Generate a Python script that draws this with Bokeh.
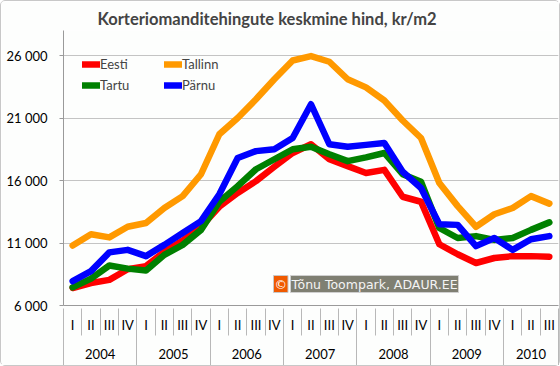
from bokeh.plotting import figure
from bokeh.models import Range1d, FixedTicker, Legend, LegendItem, Label, LinearAxis
from bokeh.embed import file_html
from bokeh.resources import INLINE

years = ["2004", "2005", "2006", "2007", "2008", "2009", "2010"]
quarter_names = ["I", "II", "III", "IV"]
quarters_per_year = [4, 4, 4, 4, 4, 4, 3]

eesti = [7400, 7800, 8050, 8900, 9150, 10300, 11200, 12300, 13900, 15000, 15950, 17100, 18200, 18900,
         17700, 17150, 16600, 16850, 14700, 14300, 10900, 10100, 9400, 9800, 9950, 9950, 9900]
tallinn = [10800, 11700, 11450, 12300, 12600, 13800, 14750, 16500, 19700, 21000, 22500, 24100, 25600, 25950,
           25500, 24100, 23450, 22400, 20800, 19400, 15800, 13950, 12300, 13300, 13800, 14750, 14150]
tartu = [7450, 8150, 9200, 8950, 8800, 10050, 10850, 12050, 14300, 15550, 16900, 17700, 18500, 18700,
         18100, 17550, 17850, 18200, 16500, 15900, 12200, 11400, 11550, 11250, 11400, 12050, 12650]
parnu = [7950, 8750, 10250, 10450, 9950, 10850, 11800, 12750, 14900, 17800, 18350, 18500, 19400, 22100,
         18900, 18700, 18850, 19000, 16700, 15400, 12500, 12450, 10750, 11400, 10450, 11300, 11550]

series_names = ["Eesti", "Tallinn", "Tartu", "Pärnu"]
series_colors = ["#FF0000", "#FF9900", "#008000", "#0000FF"]

title_text = "Korteriomanditehingute keskmine hind, kr/m2"
watermark_text = "Tõnu Toompark, ADAUR.EE"

y_ticks = [6000, 11000, 16000, 21000, 26000]
y_tick_labels = ["6 000", "11 000", "16 000", "21 000", "26 000"]
y_min, y_max = 6000, 28000

# quarter slots: one unit per quarter
q_labels = []
for n in quarters_per_year:
    q_labels += quarter_names[:n]
n_slots = len(q_labels)
q_centers = [i + 0.5 for i in range(n_slots)]
q_bounds = list(range(n_slots + 1))
year_bounds = [0]
for n in quarters_per_year:
    year_bounds.append(year_bounds[-1] + n)
year_centers = [(a + b) / 2 for a, b in zip(year_bounds[:-1], year_bounds[1:])]

FONT = "Lato"
GRAY = "#9A9A9A"
SEP = "#B8B8B8"

p = figure(
    width=560, height=366,
    x_range=Range1d(0, n_slots), y_range=Range1d(y_min, y_max),
    output_backend="svg", toolbar_location=None,
    min_border_left=62, min_border_right=3, min_border_top=29, min_border_bottom=0,
    x_axis_location=None,
    title=title_text,
)
p.background_fill_color = "#FDFEFD"
p.border_fill_color = "#FDFEFD"
p.outline_line_color = None
p.styles = {"border": "1px solid #C8C8C8", "border-radius": "5px", "box-sizing": "border-box"}

p.title.text_font = FONT
p.title.text_font_size = "16.5px"
p.title.text_font_style = "bold"
p.title.align = "left"
p.title.offset = 34
p.title.standoff = 2
p.title.vertical_align = "middle"

# y axis
p.yaxis.ticker = FixedTicker(ticks=y_ticks, minor_ticks=[])
p.yaxis.major_label_overrides = {t: l for t, l in zip(y_ticks, y_tick_labels)}
p.yaxis.major_label_text_font = FONT
p.yaxis.major_label_text_font_size = "13px"
p.yaxis.major_label_text_color = "#000000"
p.yaxis.axis_line_color = GRAY
p.yaxis.major_tick_line_color = GRAY
p.yaxis.major_tick_out = 4
p.yaxis.major_tick_in = 0
p.yaxis.minor_tick_line_color = None
p.yaxis.major_label_standoff = 12

ROW1 = 27  # quarter row height
ROW2 = 29  # year row height
# row 1: quarter labels
ax_q = LinearAxis(
    ticker=FixedTicker(ticks=q_centers, minor_ticks=[]),
    major_label_overrides={c: l for c, l in zip(q_centers, q_labels)},
    major_label_text_font=FONT, major_label_text_font_size="13px", major_label_text_color="#000000",
    major_label_standoff=11, major_tick_out=0, major_tick_in=0,
    axis_line_color=GRAY, major_tick_line_color=None, minor_tick_line_color=None,
)
# row 2: year labels; its inward minor ticks draw the quarter separators of row 1
ax_y = LinearAxis(
    ticker=FixedTicker(ticks=year_centers, minor_ticks=q_bounds),
    major_label_overrides={c: l for c, l in zip(year_centers, years)},
    major_label_text_font=FONT, major_label_text_font_size="13px", major_label_text_color="#000000",
    major_label_standoff=13, major_tick_out=0, major_tick_in=0,
    axis_line_color=None, major_tick_line_color=None,
    minor_tick_line_color=SEP, minor_tick_out=0, minor_tick_in=ROW1,
)
# bottom edge: minor ticks draw the year separators of row 2
ax_b = LinearAxis(
    ticker=FixedTicker(ticks=[], minor_ticks=year_bounds),
    major_label_text_font_size="0px", major_label_standoff=0,
    major_tick_out=0, major_tick_in=0,
    axis_line_color=None, major_tick_line_color=None,
    minor_tick_line_color=SEP, minor_tick_out=6, minor_tick_in=ROW2,
)
p.add_layout(ax_q, "below")
p.add_layout(ax_y, "below")
p.add_layout(ax_b, "below")

p.xgrid.grid_line_color = None
p.ygrid.grid_line_color = "#C4C4C4"
p.ygrid.grid_line_width = 1

renderers = []
for name, vals, col in zip(series_names, [eesti, tallinn, tartu, parnu], series_colors):
    r = p.line(x=q_centers, y=vals, line_color=col, line_width=6.5,
               line_join="round", line_cap="round")
    renderers.append(r)

legend = Legend(
    items=[LegendItem(label=n, renderers=[r]) for n, r in zip(series_names, renderers)],
    location=(19, 210), orientation="horizontal", ncols=2,
    background_fill_alpha=0, border_line_color=None,
    glyph_width=18, glyph_height=20, label_standoff=0, label_width=63,
    label_text_font=FONT, label_text_font_size="13px", label_height=20,
    spacing=1, padding=0, margin=0,
)
p.add_layout(legend)

wm_c = Label(x=210, y=13, x_units="screen", y_units="screen", text="©",
             text_font="DejaVu Sans", text_font_size="12.5px", text_color="#FFFFFF",
             text_baseline="bottom", background_fill_color="#F05A00",
             padding=1, border_line_color="#C8C8C8")
wm_t = Label(x=227, y=13, x_units="screen", y_units="screen", text=watermark_text,
             text_font="DejaVu Sans", text_font_size="12.5px", text_color="#F4F4F4",
             text_baseline="bottom", background_fill_color="#7F7F72",
             padding=1, border_line_color="#D0D0D0")
p.add_layout(wm_t)
p.add_layout(wm_c)

open("out.html", "w").write(file_html(p, INLINE))
